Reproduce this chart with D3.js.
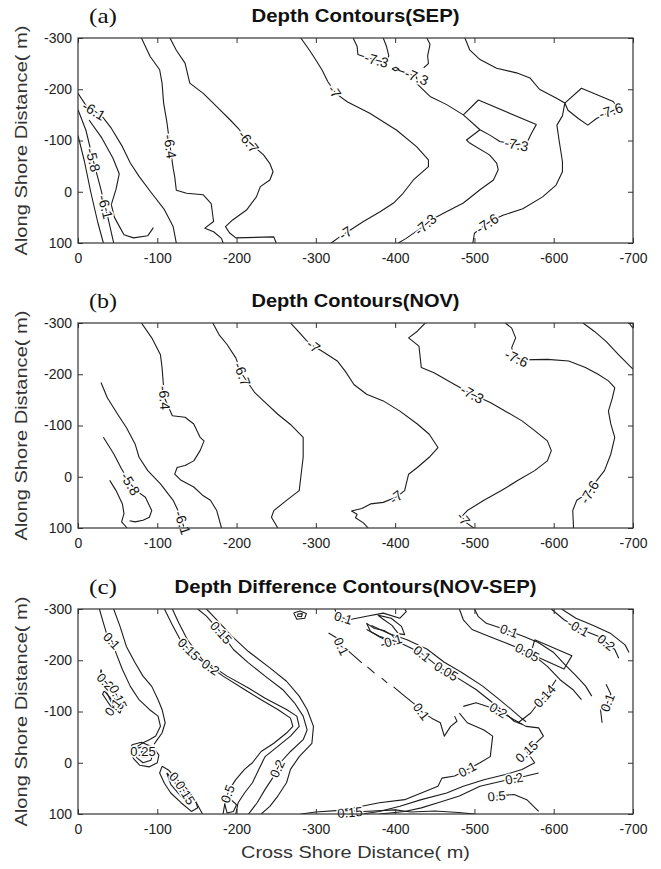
<!DOCTYPE html>
<html>
<head>
<meta charset="utf-8">
<script src="https://cdn.jsdelivr.net/npm/d3@7"></script>
<style>
  body { margin: 0; background: #fff; }
  svg { display: block; font-family: "Liberation Sans", Arial, sans-serif; }
</style>
</head>
<body>
<script>
const width = 661;
const height = 869;

// axis ticks
const xTicks = [0, -100, -200, -300, -400, -500, -600, -700];
const yTicks = [-300, -200, -100, 0, 100];

const panelTags = ["(a)", "(b)", "(c)"];
const panelTitles = ["Depth Contours(SEP)", "Depth Contours(NOV)", "Depth Difference Contours(NOV-SEP)"];

// (a) September depth contours [cross shore, along shore]
const sepLines = [
  [[0,-192],[-11,-166],[-29,-150],[-42,-124],[-56,-88],[-66,-56],[-77,-30],[-93,3],[-109,35],[-120,68],[-124,100]],
  [[0,-160],[-10,-120],[-19,-62],[-28,-10],[-37,45],[-45,100]],
  [[0,-110],[-8,-60],[-16,0],[-25,60],[-32,100]],
  [[-14,-140],[-30,-105],[-44,-66],[-52,-35],[-48,-5],[-42,25],[-46,50],[-53,70],[-58,84],[-70,90],[-88,86],[-95,70]],
  [[-80,-300],[-91,-264],[-103,-238],[-106,-212],[-108,-173],[-112,-137],[-116,-90],[-120,-46],[-122,-29],[-124,-3],[-137,3],[-158,6],[-168,23],[-171,58],[-160,71],[-171,78],[-181,91],[-183,100]],
  [[-116,-300],[-124,-276],[-135,-251],[-141,-212],[-158,-192],[-175,-166],[-192,-140],[-203,-122],[-215,-98],[-234,-72],[-242,-55],[-246,-39],[-242,-23],[-230,-10],[-225,10],[-213,35],[-195,55],[-186,68],[-191,80],[-199,90],[-247,88],[-250,100]],
  [[-281,-300],[-292,-276],[-300,-257],[-308,-237],[-315,-215],[-325,-192],[-340,-175],[-368,-153],[-402,-120],[-427,-88],[-442,-62],[-442,-49],[-423,-23],[-410,3],[-398,22],[-381,39],[-360,58],[-343,75],[-330,88],[-322,97],[-319,100]],
  [[-347,-300],[-352,-284],[-353,-268],[-364,-262],[-378,-256],[-388,-252],[-392,-265],[-389,-284],[-385,-300]],
  [[-440,-300],[-444,-288],[-441,-265],[-442,-250],[-436,-242]],
  [[-396,-240],[-400,-236],[-405,-239],[-401,-243],[-396,-240]],
  [[-404,-237],[-416,-231],[-427,-224],[-428,-210],[-444,-186],[-465,-170],[-486,-150],[-507,-121],[-520,-110],[-532,-98],[-553,-92],[-566,-95],[-572,-114],[-578,-131],[-505,-179],[-486,-150]],
  [[-507,-121],[-490,-101],[-494,-95],[-519,-72],[-528,-56],[-530,-43],[-524,-23],[-507,-4],[-486,22],[-461,42],[-445,55],[-436,67],[-414,91],[-404,100]],
  [[-488,-300],[-494,-277],[-507,-258],[-528,-241],[-553,-232],[-570,-222],[-582,-200],[-603,-183],[-614,-173],[-611,-148],[-604,-130],[-607,-98],[-611,-59],[-611,-39],[-603,-13],[-586,10],[-561,33],[-536,46],[-522,56],[-512,66],[-500,81],[-498,100]],
  [[-614,-173],[-635,-202],[-675,-176],[-681,-163],[-673,-157],[-654,-143],[-643,-130],[-631,-143],[-618,-159],[-614,-173]]
];
const sepLabels = [
  {t: "-6.1", at: [-20,-158]}, {t: "-5.8", at: [-19,-62]}, {t: "-6.1", at: [-36,29]},
  {t: "-6.4", at: [-116,-88]}, {t: "-6.7", at: [-215,-98]}, {t: "-7", at: [-323,-195]},
  {t: "-7.3", at: [-376,-255]}, {t: "-7.3", at: [-427,-224]}, {t: "-7.3", at: [-553,-92]},
  {t: "-7.6", at: [-672,-158], a: -18}, {t: "-7", at: [-337,80]}, {t: "-7.3", at: [-438,64]},
  {t: "-7.6", at: [-516,62]}
];

// (b) November depth contours
const novLines = [
  [[-29,-184],[-37,-154],[-50,-122],[-61,-96],[-72,-64],[-77,-38],[-88,-12],[-104,14],[-120,46],[-128,72],[-131,86],[-134,100]],
  [[-32,-77],[-45,-45],[-55,-15],[-66,14],[-76,30],[-85,40],[-93,66],[-90,79],[-82,85],[-72,88],[-65,86]],
  [[-40,7],[-48,27],[-56,53],[-58,72],[-55,88],[-62,100]],
  [[-80,-300],[-93,-271],[-104,-238],[-106,-213],[-109,-154],[-119,-119],[-135,-116],[-146,-103],[-154,-77],[-159,-70],[-154,-51],[-146,-31],[-135,-22],[-125,-18],[-122,-5],[-130,7],[-146,20],[-157,36],[-167,46],[-175,66],[-181,100]],
  [[-170,-300],[-178,-277],[-188,-258],[-199,-232],[-207,-200],[-223,-164],[-236,-145],[-252,-122],[-268,-102],[-284,-77],[-284,-38],[-281,1],[-279,27],[-263,46],[-247,66],[-244,79],[-252,100]],
  [[-268,-300],[-277,-285],[-288,-266],[-297,-255],[-311,-242],[-327,-226],[-337,-206],[-348,-180],[-364,-161],[-385,-148],[-406,-128],[-428,-103],[-443,-83],[-454,-57],[-443,-38],[-428,-18],[-417,-5],[-414,14],[-412,27],[-401,40],[-385,50],[-369,53],[-358,62],[-345,67],[-352,73],[-350,80],[-360,90],[-366,100]],
  [[-438,-300],[-428,-284],[-417,-271],[-430,-255],[-433,-213],[-449,-203],[-475,-180],[-497,-161],[-520,-145],[-539,-128],[-560,-109],[-576,-90],[-592,-70],[-597,-51],[-592,-31],[-576,-12],[-555,7],[-534,27],[-512,46],[-491,66],[-484,78],[-490,90],[-499,100]],
  [[-539,-300],[-547,-290],[-552,-271],[-547,-252],[-550,-235],[-560,-228],[-592,-229],[-619,-226],[-640,-213],[-656,-200],[-669,-187],[-677,-174],[-674,-154],[-669,-128],[-672,-103],[-677,-77],[-672,-44],[-664,-12],[-651,14],[-645,30],[-629,46],[-624,66],[-625,100]],
  [[-637,-300],[-651,-284],[-666,-264],[-682,-238],[-698,-213],[-700,-210]],
  [[-695,-300],[-700,-290]]
];
const novLabels = [
  {t: "-6.4", at: [-109,-154]}, {t: "-6.7", at: [-207,-200]}, {t: "-7", at: [-297,-255]},
  {t: "-7.3", at: [-497,-161]}, {t: "-7.6", at: [-553,-231], a: 25}, {t: "-5.8", at: [-66,14]},
  {t: "-6.1", at: [-125,93]}, {t: "-7", at: [-401,40]}, {t: "-7", at: [-486,82]},
  {t: "-7.6", at: [-645,30]}
];

// (c) depth difference contours (NOV-SEP)
const difLines = [
  [[-27,-300],[-32,-273],[-37,-247],[-43,-237],[-48,-214],[-56,-182],[-66,-149],[-77,-123],[-90,-104],[-101,-91],[-104,-71],[-98,-52],[-90,-45],[-82,-39],[-75,-32]],
  [[-45,-300],[-53,-266],[-61,-227],[-72,-195],[-82,-169],[-93,-149],[-101,-123],[-106,-104],[-110,-78],[-106,-58],[-100,-45],[-96,-36]],
  [[-29,-182],[-32,-162],[-40,-149],[-50,-130],[-56,-110],[-53,-97],[-46,-105],[-40,-125],[-34,-145],[-28,-165],[-29,-182]],
  [[-33,-140],[-41,-126],[-46,-112],[-43,-106],[-37,-120],[-31,-134],[-33,-140]],
  [[-68,-35],[-80,-40],[-95,-30],[-102,-15],[-100,0],[-90,8],[-78,5],[-70,-8],[-66,-22],[-68,-35]],
  [[-74,-28],[-85,-32],[-95,-20],[-92,-5],[-82,0],[-74,-10],[-74,-28]],
  [[-80,-22],[-88,-22],[-88,-12],[-80,-12],[-80,-22]],
  [[-106,7],[-114,14],[-125,33],[-138,52],[-148,72],[-151,88],[-143,95],[-130,78],[-117,59],[-109,40],[-103,20],[-106,7]],
  [[-112,20],[-122,36],[-134,55],[-142,75],[-138,80],[-128,62],[-117,42],[-112,20]],
  [[-140,60],[-150,80],[-157,100]],
  [[-109,-300],[-119,-269],[-130,-237],[-151,-204],[-183,-169],[-210,-143],[-231,-123],[-252,-104],[-268,-87],[-271,-71],[-263,-58],[-247,-38],[-231,-22],[-220,0],[-210,13],[-199,33],[-191,52],[-186,72],[-183,100]],
  [[-119,-300],[-127,-273],[-138,-240],[-157,-201],[-188,-169],[-215,-146],[-236,-126],[-263,-104],[-276,-91],[-279,-71],[-268,-52],[-252,-32],[-236,-12],[-228,13],[-220,39],[-210,59],[-202,78],[-199,100]],
  [[-151,-300],[-162,-286],[-181,-253],[-196,-221],[-215,-195],[-236,-169],[-258,-143],[-273,-117],[-284,-91],[-289,-64],[-284,-45],[-268,-22],[-255,0],[-247,26],[-236,52],[-226,78],[-215,100]],
  [[-162,-300],[-173,-282],[-194,-247],[-215,-217],[-242,-185],[-263,-159],[-279,-130],[-289,-104],[-297,-71],[-295,-38],[-279,-12],[-268,13],[-263,39],[-252,65],[-242,85],[-231,100]],
  [[-185,80],[-193,72],[-200,82],[-196,95],[-188,98],[-185,80]],
  [[-272,-292],[-280,-296],[-288,-291],[-286,-282],[-276,-280],[-272,-292]],
  [[-277,-290],[-283,-291],[-282,-285],[-277,-286],[-277,-290]],
  [[-324,-300],[-327,-286],[-342,-279],[-364,-286],[-385,-292],[-406,-282],[-414,-295],[-412,-300]],
  [[-364,-272],[-374,-262],[-386,-258],[-396,-249],[-401,-240],[-392,-236],[-380,-246],[-369,-256],[-364,-272]],
  [[-378,-288],[-395,-282],[-408,-266],[-412,-250],[-404,-252],[-396,-268],[-385,-280],[-378,-288]],
  [[-316,-253],[-327,-243],[-332,-227],[-342,-217],[-358,-195]],
  [[-365,-187],[-374,-175]],
  [[-383,-165],[-390,-156]],
  [[-398,-148],[-412,-130],[-428,-110],[-433,-100],[-446,-87],[-457,-78],[-462,-52],[-470,-71],[-478,-81],[-475,-91]],
  [[-364,-260],[-380,-247],[-406,-234],[-433,-214],[-454,-188],[-475,-169],[-502,-143],[-523,-117],[-539,-97],[-550,-81],[-560,-75]],
  [[-370,-268],[-392,-252],[-415,-240],[-440,-222],[-462,-196],[-484,-176],[-510,-150],[-530,-125],[-545,-106],[-557,-90],[-565,-80]],
  [[-481,-300],[-486,-279],[-497,-260],[-518,-247],[-539,-234],[-560,-221],[-576,-208],[-592,-188],[-608,-162],[-624,-143],[-635,-123]],
  [[-500,-300],[-505,-285],[-515,-272],[-535,-262],[-560,-248],[-580,-235],[-600,-215],[-615,-190],[-628,-170],[-640,-150],[-648,-130]],
  [[-576,-240],[-623,-209],[-613,-183],[-571,-212],[-576,-240]],
  [[-597,-300],[-613,-279],[-635,-260],[-656,-247],[-677,-221],[-682,-204]],
  [[-610,-300],[-628,-282],[-650,-268],[-672,-252],[-690,-230],[-695,-215]],
  [[-666,-153],[-672,-134],[-666,-110],[-659,-104],[-661,-78]],
  [[-603,-162],[-592,-136],[-581,-117],[-571,-97],[-555,-78]],
  [[-481,-97],[-491,-78],[-512,-64],[-523,-52],[-520,-12],[-507,0],[-491,13],[-475,26],[-459,30],[-454,46],[-433,59],[-412,72],[-380,78],[-358,85],[-337,91],[-327,100]],
  [[-486,-110],[-502,-117],[-528,-104],[-550,-84],[-565,-71],[-581,-68],[-587,-52],[-566,-22],[-576,0],[-560,13],[-539,23],[-512,33],[-486,46],[-465,59],[-433,72],[-406,85],[-380,95],[-358,100]],
  [[-581,20],[-565,26],[-534,36],[-507,46],[-481,65],[-454,78],[-433,88],[-412,95],[-380,100]],
  [[-528,65],[-550,62],[-566,72],[-581,95]],
  [[-281,100],[-300,96],[-330,93],[-360,95],[-400,92],[-420,96],[-450,94],[-480,97],[-500,100]]
];
const difLabels = [
  {t: "0.1", at: [-42,-237]}, {t: "0.2", at: [-37,-162]}, {t: "0.15", at: [-48,-126]},
  {t: "0.1", at: [-44,-108]}, {t: "0.25", at: [-82,-22]}, {t: "0.1", at: [-125,36]},
  {t: "0.15", at: [-135,59]}, {t: "0.15", at: [-180,-253]}, {t: "0.15", at: [-135,-214]},
  {t: "0.2", at: [-162,-175]}, {t: "0.2", at: [-245,7]}, {t: "0.5", at: [-186,59]},
  {t: "0.15", at: [-343,97], a: -5}, {t: "0.1", at: [-335,-285]}, {t: "0.1", at: [-332,-227]},
  {t: "-0.1", at: [-396,-231]}, {t: "0.1", at: [-430,-205]}, {t: "0.05", at: [-465,-180]},
  {t: "0.1", at: [-433,-100]}, {t: "0.2", at: [-526,-91]}, {t: "0.1", at: [-542,-250]},
  {t: "0.05", at: [-566,-213]}, {t: "-0.1", at: [-632,-266]}, {t: "0.2", at: [-668,-238]},
  {t: "0.14", at: [-590,-128]}, {t: "0.1", at: [-660,-122]}, {t: "0.1", at: [-491,13]},
  {t: "0.15", at: [-563,-22]}, {t: "0.2", at: [-550,30]}, {t: "0.5", at: [-528,70]}
];

const panelLines = [sepLines, novLines, difLines];
const panelLabels = [sepLabels, novLabels, difLabels];

// layout
const left = 78, right = 633;
const panelTop = [38, 323, 609];
const panelH = 205;

const svg = d3.select("body")
    .append("svg")
    .attr("width", width)
    .attr("height", height);

const x = d3.scaleLinear().domain([0, -700]).range([left, right]);

// put a label on its nearest line and turn it along that line
function placeLabel(lbl, lines, y) {
    const px = x(lbl.at[0]), py = y(lbl.at[1]);
    let best = {d: Infinity, qx: px, qy: py, ang: 0};
    lines.forEach(l => {
        for (let i = 0; i < l.length - 1; i++) {
            const ax = x(l[i][0]), ay = y(l[i][1]);
            const bx = x(l[i + 1][0]), by = y(l[i + 1][1]);
            const dx = bx - ax, dy = by - ay;
            const len2 = dx * dx + dy * dy || 1;
            let t = ((px - ax) * dx + (py - ay) * dy) / len2;
            t = Math.max(0, Math.min(1, t));
            const qx = ax + t * dx, qy = ay + t * dy;
            const d = Math.hypot(px - qx, py - qy);
            if (d < best.d) best = {d, qx, qy, ang: Math.atan2(dy, dx) * 180 / Math.PI};
        }
    });
    let ang = best.ang;
    if (ang > 90) ang -= 180;
    if (ang < -90) ang += 180;
    if (lbl.a !== undefined) return {x: px, y: py, ang: lbl.a};
    if (best.d > 10) return {x: px, y: py, ang};
    return {x: best.qx, y: best.qy, ang};
}

panelTop.forEach((top, p) => {
    const y = d3.scaleLinear().domain([-300, 100]).range([top, top + panelH]);
    const g = svg.append("g");

    g.append("text")
        .attr("x", 89).attr("y", top - 15)
        .attr("font-family", "'Liberation Serif', 'Times New Roman', serif")
        .attr("font-size", 22)
        .attr("textLength", 28).attr("lengthAdjust", "spacingAndGlyphs")
        .attr("fill", "#111")
        .text(panelTags[p]);

    g.append("text")
        .attr("x", (left + right) / 2).attr("y", top - 16)
        .attr("text-anchor", "middle")
        .attr("font-weight", "bold")
        .attr("font-size", 18)
        .attr("textLength", p === 2 ? 362 : 208).attr("lengthAdjust", "spacingAndGlyphs")
        .attr("fill", "#111")
        .text(panelTitles[p]);

    const clipId = "clip" + p;
    svg.append("clipPath").attr("id", clipId)
        .append("rect")
        .attr("x", left).attr("y", top)
        .attr("width", right - left).attr("height", panelH);

    const line = d3.line().x(d => x(d[0])).y(d => y(d[1]));

    g.append("g")
        .attr("clip-path", `url(#${clipId})`)
        .selectAll("path")
        .data(panelLines[p])
        .enter()
        .append("path")
        .attr("d", line)
        .attr("fill", "none")
        .attr("stroke", "#1c1c1c")
        .attr("stroke-width", 1.1)
        .attr("stroke-linejoin", "round");

    const fs = p === 2 ? 13 : 14;
    g.append("g")
        .selectAll("text")
        .data(panelLabels[p])
        .enter()
        .append("text")
        .each(function(d) {
            const pos = placeLabel(d, panelLines[p], y);
            d3.select(this)
                .attr("transform", `translate(${pos.x},${pos.y}) rotate(${pos.ang})`);
        })
        .attr("text-anchor", "middle")
        .attr("dy", "0.35em")
        .attr("font-size", fs)
        .attr("fill", "#111")
        .attr("stroke", "#fff")
        .attr("stroke-width", 3)
        .attr("paint-order", "stroke")
        .text(d => d.t);

    // box and inward ticks on four sides
    const fmt = d => String(d);
    const axes = [
        {ax: d3.axisBottom(x).tickValues(xTicks).tickSize(-5).tickPadding(10).tickFormat(fmt), tr: `translate(0,${top + panelH})`},
        {ax: d3.axisTop(x).tickValues(xTicks).tickSize(-5).tickFormat(""), tr: `translate(0,${top})`},
        {ax: d3.axisLeft(y).tickValues(yTicks).tickSize(-5).tickPadding(6).tickFormat(fmt), tr: `translate(${left},0)`},
        {ax: d3.axisRight(y).tickValues(yTicks).tickSize(-5).tickFormat(""), tr: `translate(${right},0)`}
    ];
    axes.forEach(a => {
        const ag = g.append("g").attr("transform", a.tr).call(a.ax);
        ag.select(".domain").remove();
        ag.selectAll("line").attr("stroke", "#333");
        ag.selectAll("text")
            .attr("font-size", 14)
            .attr("font-family", "'Liberation Sans', Arial, sans-serif")
            .attr("fill", "#222");
    });

    g.append("rect")
        .attr("x", left).attr("y", top)
        .attr("width", right - left).attr("height", panelH)
        .attr("fill", "none")
        .attr("stroke", "#333")
        .attr("stroke-width", 1.2);

    g.append("text")
        .attr("transform", `translate(21,${top + panelH / 2}) rotate(-90)`)
        .attr("text-anchor", "middle")
        .attr("dy", "0.35em")
        .attr("font-size", 17)
        .attr("textLength", 230).attr("lengthAdjust", "spacingAndGlyphs")
        .attr("fill", "#333")
        .text("Along Shore Distance( m)");
});

svg.append("text")
    .attr("x", (left + right) / 2).attr("y", 858)
    .attr("text-anchor", "middle")
    .attr("font-size", 17)
    .attr("textLength", 229).attr("lengthAdjust", "spacingAndGlyphs")
    .attr("fill", "#333")
    .text("Cross Shore Distance( m)");
</script>
</body>
</html>
